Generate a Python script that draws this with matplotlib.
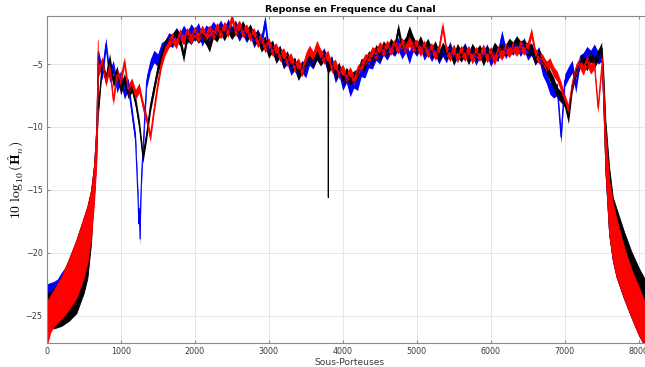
import numpy as np
import matplotlib
matplotlib.use("Agg")
import matplotlib.pyplot as plt

plt.rcParams["mathtext.fontset"] = "cm"

# sous-porteuses de la partie utile (pas de 50)
sous_porteuses = np.arange(700, 7501, 50)

# estimation du canal (dB) pour chaque courbe
bleu = [
	-4.4, -5.8, -3.4, -6.0, -5.2, -6.8, -6.0, -7.3, -6.6, -8.8,
	-11.0, -16.5, -12.0, -6.4, -5.1, -4.4, -4.7, -3.8, -3.6, -3.0,
	-3.2, -2.6, -3.0, -2.4, -2.9, -2.3, -2.7, -2.2, -3.1, -2.4,
	-2.6, -2.1, -2.5, -2.0, -2.6, -1.9, -2.5, -2.0, -2.7, -2.2,
	-2.8, -2.3, -3.2, -2.7, -3.3, -1.6, -3.9, -3.6, -4.4, -4.0,
	-4.9, -4.5, -5.4, -5.0, -5.8, -5.2, -5.6, -4.6, -4.9, -4.2,
	-4.6, -4.2, -5.3, -4.8, -6.0, -5.4, -6.6, -6.0, -7.1, -6.4,
	-6.6, -5.5, -5.6, -4.8, -4.9, -4.2, -4.5, -3.8, -4.2, -3.6,
	-3.9, -3.4, -4.1, -3.6, -4.5, -3.5, -3.9, -3.3, -4.2, -3.7,
	-4.3, -3.8, -4.5, -3.9, -4.4, -3.7, -4.6, -4.0, -4.3, -3.8,
	-4.5, -3.9, -4.6, -4.0, -4.4, -3.9, -4.7, -4.1, -4.3, -2.8,
	-4.1, -3.5, -3.8, -3.3, -3.9, -3.4, -4.2, -3.8, -4.6, -4.1,
	-5.4, -6.0, -6.9, -7.2, -7.0, -10.8, -6.3, -5.7, -5.2, -6.8,
	-4.8, -4.6, -4.1, -4.4, -3.9, -4.5, -4.3,
]
noir = [
	-8.5, -5.0, -6.2, -4.6, -6.4, -5.6, -7.0, -6.2, -7.3, -6.8,
	-8.0, -9.8, -12.4, -10.6, -8.4, -6.9, -5.4, -4.3, -3.5, -3.2,
	-3.0, -2.6, -3.1, -4.4, -2.7, -3.0, -2.5, -2.9, -2.6, -3.0,
	-3.6, -2.5, -2.8, -2.2, -2.7, -2.1, -2.6, -2.2, -2.5, -2.0,
	-2.7, -2.3, -3.0, -2.8, -3.6, -3.2, -4.1, -3.6, -4.5, -4.0,
	-4.8, -4.4, -5.2, -4.9, -5.8, -5.3, -5.1, -4.4, -4.8, -4.2,
	-4.7, -4.3, -5.2, -4.9, -5.8, -5.3, -6.3, -5.7, -6.2, -6.0,
	-5.8, -5.0, -5.1, -4.4, -4.6, -3.9, -4.3, -3.6, -4.0, -3.4,
	-3.8, -2.2, -3.7, -3.3, -2.4, -3.2, -3.8, -3.2, -3.9, -3.4,
	-4.1, -3.6, -4.4, -3.7, -4.2, -3.9, -4.6, -3.8, -4.4, -3.9,
	-4.6, -3.8, -4.3, -3.9, -4.7, -4.0, -4.4, -3.7, -4.1, -3.8,
	-3.9, -3.4, -3.7, -3.2, -3.6, -3.5, -3.9, -3.8, -4.6, -4.2,
	-4.8, -5.2, -5.9, -6.5, -7.3, -7.6, -8.0, -9.3, -6.8, -5.6,
	-5.0, -4.6, -5.1, -4.4, -4.9, -4.3, -3.7,
]
rouge = [
	-5.6, -4.8, -6.4, -5.2, -7.9, -5.8, -6.3, -4.8, -7.0, -6.5,
	-7.4, -6.9, -8.3, -9.4, -10.8, -8.6, -6.6, -4.9, -3.9, -3.3,
	-2.9, -3.4, -2.6, -3.1, -2.5, -3.0, -2.4, -2.9, -2.3, -2.8,
	-2.3, -2.7, -2.1, -2.6, -2.0, -2.5, -1.3, -2.4, -1.9, -2.5,
	-2.2, -2.8, -2.5, -3.3, -2.9, -3.7, -3.3, -4.0, -3.7, -4.4,
	-4.1, -4.8, -4.5, -5.3, -4.9, -5.6, -4.5, -3.9, -4.4, -3.5,
	-4.2, -4.6, -4.3, -5.3, -5.0, -5.8, -5.4, -6.1, -5.6, -6.3,
	-5.5, -5.2, -4.6, -4.6, -4.0, -4.2, -3.6, -4.0, -3.5, -3.9,
	-3.4, -3.8, -3.3, -3.8, -3.2, -3.7, -3.4, -4.0, -3.5, -4.1,
	-3.7, -4.3, -3.8, -2.0, -3.9, -4.4, -3.8, -4.5, -3.9, -4.4,
	-3.9, -4.6, -4.0, -4.4, -3.8, -4.5, -4.0, -4.7, -3.9, -4.3,
	-3.7, -4.1, -3.6, -4.0, -3.5, -3.9, -3.6, -2.5, -4.1, -4.6,
	-4.6, -5.2, -4.9, -5.6, -6.0, -6.8, -7.8, -8.6, -6.6, -5.4,
	-4.9, -5.5, -4.7, -5.4, -5.0, -8.5, -5.2,
]

# pics isoles
bleu_pics_x = [1235, 1245, 1262, 1270, 1285]
bleu_pics_y = [-15.8, -17.7, -18.9, -16.0, -13.5]
noir_pics_x = [3803, 3806, 3809]
noir_pics_y = [-5.0, -15.6, -5.2]

# bandes de garde : enveloppes (min / max) des oscillations
garde_g_x = [0, 50, 100, 150, 200, 250, 300, 400, 500, 550, 600, 640, 670, 690]
bleu_g_haut = [-22.5, -22.4, -22.3, -22.1, -21.6, -21.2, -20.6, -19.1, -17.3, -16.4, -15.1, -13.1, -10.1, -4.0]
bleu_g_bas = [-25.0, -25.0, -25.0, -25.0, -25.0, -24.8, -24.5, -23.5, -21.5, -20.5, -18.5, -15.5, -12.5, -8.0]
noir_g_haut = [-23.1, -23.2, -22.8, -22.4, -21.9, -21.2, -20.5, -19.0, -17.2, -16.3, -15.0, -13.0, -10.0, -4.0]
noir_g_bas = [-26.0, -26.0, -26.0, -25.9, -25.8, -25.6, -25.4, -24.8, -23.2, -22.0, -19.2, -14.5, -12.0, -9.0]
rouge_g_haut = [-23.9, -23.4, -22.9, -22.4, -21.9, -21.2, -20.5, -19.0, -17.2, -16.3, -15.0, -13.0, -10.0, -3.1]
rouge_g_bas = [-27.4, -26.3, -25.8, -25.5, -25.2, -24.9, -24.5, -23.6, -22.0, -20.8, -18.8, -16.0, -13.0, -8.0]

garde_d_x = [7500, 7520, 7550, 7600, 7650, 7700, 7800, 7900, 8000, 8100, 8192]
bleu_d_haut = [-4.5, -7.0, -11.0, -14.8, -16.6, -18.0, -20.0, -21.8, -23.2, -24.6, -25.4]
bleu_d_bas = [-5.0, -8.0, -13.5, -18.5, -20.6, -21.9, -23.6, -25.1, -26.5, -27.6, -28.4]
noir_d_haut = [-3.7, -5.5, -9.5, -13.2, -15.6, -16.5, -18.3, -19.9, -21.2, -22.3, -23.0]
noir_d_bas = [-5.0, -8.0, -13.5, -18.5, -20.6, -21.9, -23.6, -25.1, -26.5, -27.6, -28.4]
rouge_d_haut = [-4.5, -6.5, -10.5, -14.2, -16.0, -17.3, -19.5, -21.3, -22.7, -24.2, -25.0]
rouge_d_bas = [-5.0, -8.0, -13.5, -18.5, -20.6, -21.9, -23.6, -25.1, -26.5, -27.6, -28.4]


def avec_pics(x, y, px, py):
	xx = np.concatenate([x, px])
	yy = np.concatenate([y, py])
	idx = np.argsort(xx, kind="stable")
	return xx[idx], yy[idx]


fig = plt.figure(figsize=(6.45, 3.67), dpi=100)
ax = fig.add_axes([0.0724, 0.0646, 0.9399, 0.8926])

# (couleur, valeurs, pics, pics dans la bande ?, gardes, demi-epaisseur du bruit en dB)
series = [
	("b", bleu, bleu_pics_x, bleu_pics_y, True, bleu_g_haut, bleu_g_bas, bleu_d_haut, bleu_d_bas, 0.5),
	("k", noir, noir_pics_x, noir_pics_y, False, noir_g_haut, noir_g_bas, noir_d_haut, noir_d_bas, 0.45),
	("r", rouge, [], [], False, rouge_g_haut, rouge_g_bas, rouge_d_haut, rouge_d_bas, 0.4),
]
for coul, val, px, py, pb, gh, gb, dh, db, ep in series:
	val = np.array(val, dtype=float)
	ax.fill_between(garde_g_x, gb, gh, color=coul, lw=0.6, edgecolor=coul)
	ax.fill_between(garde_d_x, db, dh, color=coul, lw=0.6, edgecolor=coul)
	x, y = avec_pics(sous_porteuses, val, px, py)
	if pb:
		ax.fill_between(x, y - ep, y + ep, color=coul, lw=0)
	else:
		ax.fill_between(sous_porteuses, val - ep, val + ep, color=coul, lw=0)
	ax.plot(x, y, color=coul, lw=0.8)

ax.set_xlim(0, 8192)
ax.set_ylim(-27.19, -1.16)
ax.set_xticks(range(0, 8001, 1000))
ax.set_yticks([-25, -20, -15, -10, -5])
ax.grid(True, color="#e3e3e3", lw=0.6)
ax.set_axisbelow(True)
for s in ax.spines.values():
	s.set_color("#8a8a8a")
	s.set_linewidth(0.8)
ax.tick_params(direction="in", length=2.5, colors="#8a8a8a", labelcolor="#3a3a3a",
	labelsize=5.8, top=True, right=True, pad=3)

ax.set_title("Reponse en Frequence du Canal", fontsize=6.8, fontweight="bold", pad=3)
ax.set_xlabel("Sous-Porteuses", fontsize=6.6, color="#3a3a3a", labelpad=1)
ax.set_ylabel(r"$10\ \log_{10}(\hat{\mathbf{H}}_n)$", fontsize=10)
ax.yaxis.set_label_coords(-0.034, 0.5)

fig.savefig("out.png", dpi=100)
